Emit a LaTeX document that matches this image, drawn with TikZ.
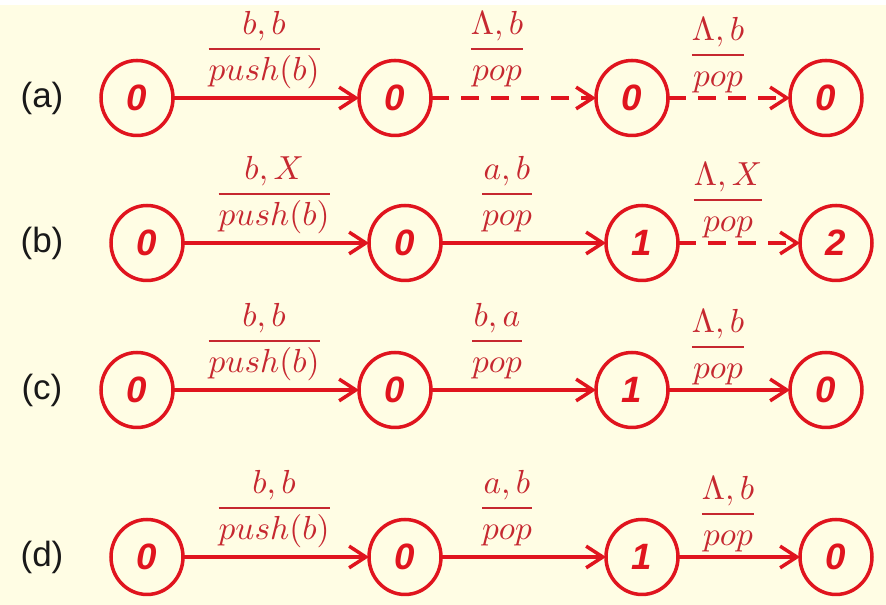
\documentclass[tikz,border=0pt]{standalone}
\usepackage{amsmath}
\usepackage[no-math]{fontspec}
\usepackage{tikz}
\usetikzlibrary{arrows.meta, positioning, shapes.geometric}
\newfontfamily\arialfont{Liberation Sans}
\definecolor{statered}{HTML}{E0141E}
\definecolor{labelred}{HTML}{C62830}
\definecolor{bgyellow}{HTML}{FFFDE4}
\tikzset{
    statecircle/.style={ellipse, draw=statered, line width=1.05pt, minimum width=21.6pt, minimum height=22.5pt, inner sep=0pt, outer sep=0pt, text=statered, font=\arialfont\fontsize{11}{13}\selectfont\bfseries\itshape},
    rowlabel/.style={font=\arialfont\fontsize{10.5}{12}\selectfont, text=black!90},
    lbl/.style={anchor=base, yshift=12.2pt, text=labelred},
    lastlbl/.style={lbl, yshift=-1.8pt},
    arrow/.style={-{Straight Barb[length=5pt, width=6.5pt]}, line width=1.05pt, draw=statered},
    dashedarrow/.style={arrow, dash pattern=on 5.5pt off 3.5pt}
}
\begin{document}
\begin{tikzpicture}[x=0.3pt, y=-0.3pt]
    \useasboundingbox (0,0) rectangle (886,605);
    \fill[bgyellow] (0,5) rectangle (886,605);

    % (a)
    \node[rowlabel] (la) at (42,98) {(a)};
    \node[statecircle] (a1) at (137,98) {0};
    \node[statecircle, right=55.8pt of a1] (a2) {0};
    \node[statecircle, right=49.5pt of a2] (a3) {0};
    \node[statecircle, right=36.6pt of a3] (a4) {0};
    \draw[arrow] (a1) -- (a2) node[lbl, pos=0.49] {$\dfrac{b,b}{push(b)}$};
    \draw[dashedarrow] (a2) -- (a3) node[lbl, pos=0.4] {$\dfrac{\Lambda,b}{pop}$};
    \draw[dashedarrow] (a3) -- (a4) node[lastlbl, pos=0.41] {$\dfrac{\Lambda,b}{pop}$};

    % (b)
    \node[rowlabel] (lb) at (42,243) {(b)};
    \node[statecircle] (b1) at (147,243) {0};
    \node[statecircle, right=55.8pt of b1] (b2) {0};
    \node[statecircle, right=49.5pt of b2] (b3) {1};
    \node[statecircle, right=36.6pt of b3] (b4) {2};
    \draw[arrow] (b1) -- (b2) node[lbl, pos=0.49] {$\dfrac{b,X}{push(b)}$};
    \draw[arrow] (b2) -- (b3) node[lbl, pos=0.4] {$\dfrac{a,b}{pop}$};
    \draw[dashedarrow] (b3) -- (b4) node[lastlbl, pos=0.41] {$\dfrac{\Lambda,X}{pop}$};

    % (c)
    \node[rowlabel] (lc) at (42,390) {(c)};
    \node[statecircle] (c1) at (137,390) {0};
    \node[statecircle, right=55.8pt of c1] (c2) {0};
    \node[statecircle, right=49.5pt of c2] (c3) {1};
    \node[statecircle, right=36.6pt of c3] (c4) {0};
    \draw[arrow] (c1) -- (c2) node[lbl, pos=0.49] {$\dfrac{b,b}{push(b)}$};
    \draw[arrow] (c2) -- (c3) node[lbl, pos=0.4] {$\dfrac{b,a}{pop}$};
    \draw[arrow] (c3) -- (c4) node[lastlbl, pos=0.41] {$\dfrac{\Lambda,b}{pop}$};

    % (d)
    \node[rowlabel] (ld) at (42,557) {(d)};
    \node[statecircle] (d1) at (147,557) {0};
    \node[statecircle, right=55.8pt of d1] (d2) {0};
    \node[statecircle, right=49.5pt of d2] (d3) {1};
    \node[statecircle, right=36.6pt of d3] (d4) {0};
    \draw[arrow] (d1) -- (d2) node[lbl, pos=0.49] {$\dfrac{b,b}{push(b)}$};
    \draw[arrow] (d2) -- (d3) node[lbl, pos=0.4] {$\dfrac{a,b}{pop}$};
    \draw[arrow] (d3) -- (d4) node[lastlbl, pos=0.41] {$\dfrac{\Lambda,b}{pop}$};
\end{tikzpicture}
\end{document}
